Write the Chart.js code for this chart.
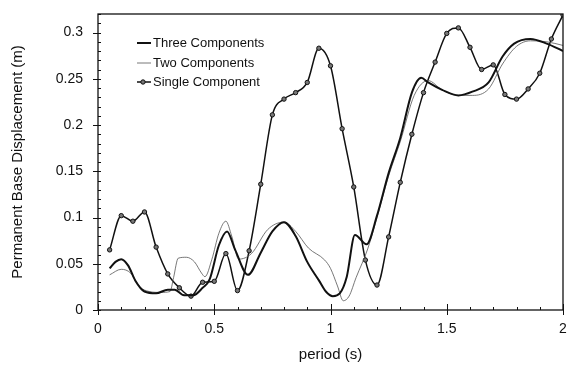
<!DOCTYPE html>
<html><head><meta charset="utf-8">
<script src="https://cdn.jsdelivr.net/npm/chart.js@4/dist/chart.umd.min.js"></script>
<style>html,body{margin:0;padding:0;background:#fff}#wrap{width:568px;height:367px}</style>
</head><body><div id="wrap"><canvas id="c" width="568" height="367"></canvas></div>
<script>
const xTicks = [0, 0.5, 1, 1.5, 2];
const yTicks = [0, 0.05, 0.1, 0.15, 0.2, 0.25, 0.3];
const seriesNames = ['Three Components', 'Two Components', 'Single Component'];

const singlePeriods = [0.05,0.10,0.15,0.20,0.25,0.30,0.35,0.40,0.45,0.50,0.55,0.60,0.65,0.70,0.75,0.80,0.85,0.90,0.95,1.00,
  1.05,1.10,1.15,1.20,1.25,1.30,1.35,1.40,1.45,1.50,1.55,1.60,1.65,1.70,1.75,1.80,1.85,1.90,1.95,2.00];
const singleValues = [0.065,0.102,0.096,0.106,0.068,0.039,0.024,0.015,0.030,0.031,0.061,0.021,0.064,0.136,0.211,0.228,0.235,0.246,0.283,0.264,
  0.196,0.133,0.054,0.027,0.079,0.138,0.190,0.235,0.268,0.299,0.305,0.284,0.260,0.265,0.233,0.228,0.239,0.256,0.293,0.319];

const threePeriods = [0.05,0.075,0.10,0.13,0.16,0.20,0.25,0.30,0.33,0.37,0.41,0.45,0.48,0.52,0.555,0.59,0.645,0.70,0.75,0.80,
  0.85,0.90,0.95,0.98,1.01,1.04,1.07,1.105,1.155,1.20,1.25,1.30,1.35,1.39,1.42,1.48,1.55,1.61,1.68,1.74,1.79,1.86,1.93,2.00];
const threeValues = [0.045,0.052,0.055,0.048,0.032,0.020,0.018,0.022,0.022,0.016,0.016,0.024,0.033,0.070,0.085,0.065,0.038,0.062,0.085,0.095,
  0.080,0.052,0.032,0.020,0.015,0.018,0.036,0.081,0.071,0.102,0.148,0.186,0.235,0.251,0.246,0.238,0.232,0.236,0.246,0.274,0.288,0.293,0.288,0.280];

const twoPeriods = [0.05,0.10,0.14,0.18,0.22,0.27,0.31,0.325,0.345,0.38,0.415,0.445,0.46,0.49,0.52,0.55,0.575,0.605,0.66,0.73,
  0.80,0.85,0.905,0.975,1.00,1.03,1.055,1.08,1.11,1.16,1.20,1.25,1.30,1.36,1.42,1.48,1.55,1.61,1.68,1.74,1.80,1.86,1.93,2.00];
const twoValues = [0.038,0.044,0.040,0.025,0.020,0.019,0.020,0.035,0.056,0.057,0.052,0.040,0.036,0.055,0.083,0.096,0.080,0.055,0.061,0.087,
  0.095,0.085,0.067,0.054,0.045,0.026,0.010,0.015,0.035,0.066,0.100,0.145,0.182,0.232,0.248,0.238,0.232,0.232,0.239,0.266,0.285,0.291,0.290,0.286];

const toPts = (xs, ys) => xs.map((p, i) => ({x: p, y: ys[i]}));
const FONT = 'Liberation Sans, Arial, sans-serif';

const frame = {
  id: 'frame',
  afterDraw(chart) {
    const {ctx, chartArea: a, scales: {x, y}} = chart;
    ctx.save();
    ctx.strokeStyle = '#111';
    ctx.lineWidth = 1.3;
    ctx.strokeRect(a.left, a.top, a.right - a.left, a.bottom - a.top);
    ctx.lineWidth = 1;
    ctx.beginPath();
    for (let i = 0; i <= 20; i++) {
      const px = Math.round(x.getPixelForValue(i / 10)) + 0.5;
      if (i % 5 === 0) { ctx.moveTo(px, a.bottom - 6); ctx.lineTo(px, a.bottom + 5); }
      else { ctx.moveTo(px, a.bottom - 3); ctx.lineTo(px, a.bottom); }
    }
    for (let i = 0; i <= 32; i++) {
      const py = Math.round(y.getPixelForValue(i / 100)) + 0.5;
      if (i % 5 === 0) { ctx.moveTo(a.left - 5, py); ctx.lineTo(a.left + 3, py); }
      else { ctx.moveTo(a.left, py); ctx.lineTo(a.left + 3, py); }
    }
    ctx.stroke();

    // legend inside the plot
    const ds = chart.data.datasets;
    const rows = [43, 63, 82];
    ctx.font = '13px ' + FONT;
    ctx.fillStyle = '#111';
    ctx.textBaseline = 'middle';
    ds.forEach((d, i) => {
      const yy = rows[i];
      ctx.strokeStyle = d.borderColor;
      ctx.lineWidth = d.borderWidth;
      ctx.beginPath(); ctx.moveTo(137, yy); ctx.lineTo(151, yy); ctx.stroke();
      if (d.pointRadius > 0) {
        ctx.beginPath(); ctx.arc(143, yy, d.pointRadius, 0, Math.PI * 2);
        ctx.fillStyle = d.pointBackgroundColor; ctx.fill();
        ctx.strokeStyle = d.pointBorderColor; ctx.lineWidth = 1; ctx.stroke();
      }
      ctx.fillStyle = '#111';
      ctx.fillText(d.label, 153, yy);
    });
    ctx.restore();
  }
};

new Chart(document.getElementById('c'), {
  type: 'line',
  data: {
    datasets: [
      {label: seriesNames[0], data: toPts(threePeriods, threeValues), borderColor: '#111', borderWidth: 2,
       pointRadius: 0, cubicInterpolationMode: 'monotone', fill: false},
      {label: seriesNames[1], data: toPts(twoPeriods, twoValues), borderColor: '#555', borderWidth: 0.8,
       pointRadius: 0, cubicInterpolationMode: 'monotone', fill: false},
      {label: seriesNames[2], data: toPts(singlePeriods, singleValues), borderColor: '#111', borderWidth: 1.5,
       pointRadius: 2.2, pointBackgroundColor: '#777', pointBorderColor: '#111', pointBorderWidth: 1,
       cubicInterpolationMode: 'monotone', fill: false}
    ]
  },
  options: {
    responsive: false, animation: false, devicePixelRatio: 1,
    layout: {padding: {top: 14, right: 2, left: 0, bottom: 0}},
    plugins: {legend: {display: false}, tooltip: {enabled: false}},
    scales: {
      x: {
        type: 'linear', min: 0, max: 2,
        afterBuildTicks: s => { s.ticks = xTicks.map(v => ({value: v})); },
        afterFit: s => { s.height = 57; s.paddingLeft = 0; s.paddingRight = 0; },
        grid: {display: false, drawTicks: false}, border: {display: false},
        ticks: {padding: 11, color: '#111', maxRotation: 0, autoSkip: false, font: {family: FONT, size: 14},
                callback: v => String(v)},
        title: {display: true, text: 'period (s)', color: '#111', font: {family: FONT, size: 15}, padding: {top: 0, bottom: 3}}
      },
      y: {
        type: 'linear', min: 0, max: 0.32,
        afterBuildTicks: s => { s.ticks = yTicks.map(v => ({value: v})); },
        afterFit: s => { s.width = 98; s.paddingTop = 0; s.paddingBottom = 0; },
        grid: {display: false, drawTicks: false}, border: {display: false},
        ticks: {padding: 15, color: '#111', autoSkip: false, font: {family: FONT, size: 14},
                callback: v => String(v)},
        title: {display: true, text: 'Permanent Base Displacement (m)', color: '#111', font: {family: FONT, size: 15}, padding: {top: 9, bottom: 0}}
      }
    }
  },
  plugins: [frame]
});
</script></body></html>
